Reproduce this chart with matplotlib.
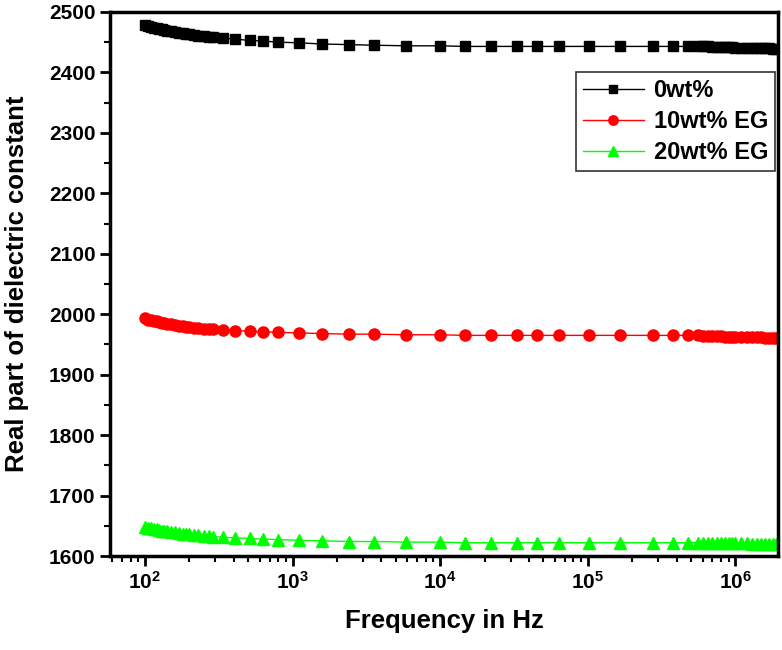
import matplotlib
matplotlib.use("Agg")
import matplotlib.pyplot as plt
from matplotlib.ticker import LogLocator, MultipleLocator, NullFormatter

plt.rcParams['font.family'] = ['Liberation Sans', 'DejaVu Sans']
plt.rcParams['font.weight'] = 'bold'
plt.rcParams['mathtext.fontset'] = 'custom'
plt.rcParams['mathtext.rm'] = 'Liberation Sans:bold'
plt.rcParams['mathtext.bf'] = 'Liberation Sans:bold'
plt.rcParams['mathtext.default'] = 'bf'

# frequency points (Hz)
freq = [100, 105, 110, 115, 120, 125, 130, 135, 140, 150,
        160, 170, 180, 190, 200, 215, 230, 250, 270, 290,
        340, 405, 515, 630, 800, 1100, 1580, 2400, 3550, 5900,
        10000, 14800, 22000, 33000, 45000, 64000, 102000, 166000, 276000, 377000,
        480000, 560000, 600000, 650000, 700000, 750000, 800000, 850000, 900000, 950000,
        1000000, 1100000, 1200000, 1300000, 1400000, 1500000, 1600000, 1700000, 1800000, 1900000]

eps_0 = [2478, 2476, 2475, 2474, 2473, 2472, 2471, 2470, 2469, 2468,
         2467, 2466, 2465, 2464, 2463, 2462, 2461, 2460, 2459, 2459,
         2457, 2455, 2453, 2452, 2450, 2449, 2447, 2446, 2445, 2444,
         2444, 2443, 2443, 2443, 2443, 2443, 2443, 2443, 2443, 2443,
         2443, 2443, 2443, 2443, 2442, 2442, 2442, 2442, 2442, 2442,
         2441, 2441, 2441, 2441, 2440, 2440, 2440, 2440, 2439, 2439]

eps_10 = [1993, 1991, 1990, 1989, 1988, 1987, 1986, 1985, 1984, 1983,
          1982, 1981, 1980, 1979, 1979, 1978, 1977, 1976, 1976, 1975,
          1974, 1973, 1972, 1971, 1970, 1969, 1968, 1967, 1967, 1966,
          1966, 1965, 1965, 1965, 1965, 1965, 1965, 1965, 1965, 1965,
          1965, 1965, 1964, 1964, 1964, 1964, 1964, 1963, 1963, 1963,
          1963, 1963, 1962, 1962, 1962, 1962, 1961, 1961, 1961, 1961]

eps_20 = [1648, 1647, 1646, 1645, 1644, 1643, 1642, 1641, 1641, 1640,
          1639, 1638, 1637, 1636, 1636, 1635, 1634, 1633, 1633, 1632,
          1631, 1630, 1629, 1628, 1627, 1626, 1625, 1624, 1624, 1623,
          1623, 1622, 1622, 1622, 1622, 1622, 1622, 1622, 1622, 1622,
          1622, 1622, 1622, 1622, 1622, 1621, 1621, 1621, 1621, 1621,
          1621, 1621, 1621, 1620, 1620, 1620, 1620, 1620, 1620, 1620]

labels = ["0wt%", "10wt% EG", "20wt% EG"]

fig = plt.figure(figsize=(7.82, 6.5), dpi=100)
ax = fig.add_axes([0.1407, 0.1446, 0.8543, 0.837])

ax.plot(freq, eps_0, color='black', lw=1, marker='s', ms=7.5, label=labels[0])
ax.plot(freq, eps_10, color='#ff0000', lw=1, marker='o', ms=8, label=labels[1])
ax.plot(freq, eps_20, color='#00ff00', lw=1, marker='^', ms=8.5, label=labels[2])

ax.set_xscale('log')
ax.set_xlim(58, 1.95e6)
ax.set_ylim(1600, 2500)
ax.yaxis.set_major_locator(MultipleLocator(100))
ax.yaxis.set_minor_locator(MultipleLocator(50))
ax.xaxis.set_major_locator(LogLocator(base=10, numticks=10))
ax.xaxis.set_minor_locator(LogLocator(base=10, subs=range(2, 10), numticks=20))
ax.xaxis.set_minor_formatter(NullFormatter())

for s in ax.spines.values():
    s.set_linewidth(2.5)
ax.tick_params(which='major', direction='out', length=7, width=2, labelsize=15)
ax.tick_params(which='minor', direction='out', length=4, width=1.5)
for t in ax.get_yticklabels():
    t.set_fontweight('bold')

ax.set_xlabel("Frequency in Hz", fontsize=18.5, fontweight='bold', labelpad=12)
ax.set_ylabel("Real part of dielectric constant", fontsize=18.5, fontweight='bold', labelpad=14)

leg = ax.legend(loc='upper right', bbox_to_anchor=(0.9955, 0.89), fancybox=False,
                edgecolor='black', fontsize=17, handlelength=2.6, borderpad=0.3,
                labelspacing=0.35, handletextpad=0.4, borderaxespad=0.0,
                markerscale=0.85)
leg.get_frame().set_linewidth(1.2)
for t in leg.get_texts():
    t.set_fontweight('bold')

fig.savefig("out.png", dpi=100)
